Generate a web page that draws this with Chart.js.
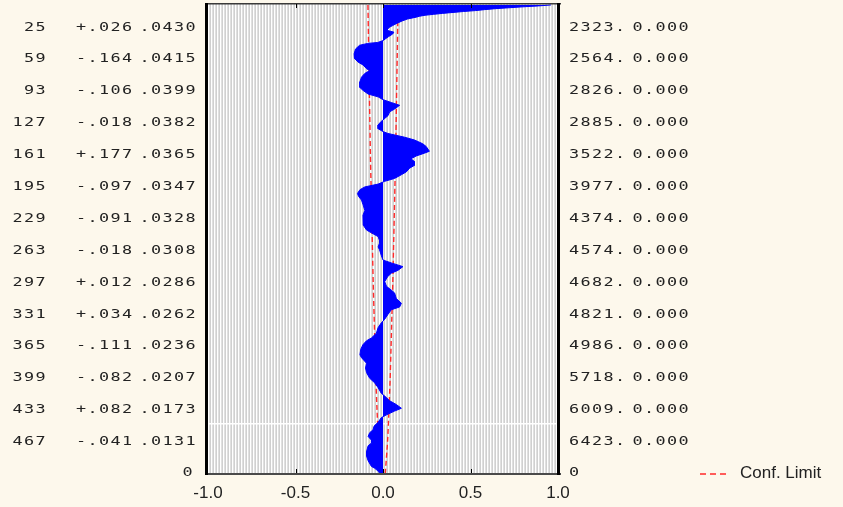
<!DOCTYPE html>
<html>
<head>
<meta charset="utf-8">
<script src="https://cdn.jsdelivr.net/npm/chart.js@4.4.1/dist/chart.umd.min.js"></script>
<style>
  html, body { margin: 0; padding: 0; background: #fdf8ec; }
  #wrap { width: 843px; height: 507px; }
</style>
</head>
<body>
<div id="wrap"><canvas id="acfChart" width="843" height="507"></canvas></div>
<script>
// autocorrelation per lag
const acfLags = [1, 2, 3, 4, 5, 6, 7, 8, 9, 10, 11, 12, 13, 14, 16, 18, 21, 23, 25, 28,
  30, 32, 35, 39, 41, 42, 44, 48, 53, 58, 62, 65, 69, 71, 74, 78, 83, 89, 92, 96,
  99, 102, 105, 108, 112, 115, 119, 122, 126, 129, 133, 136, 138, 142, 145, 149, 152, 157, 159, 162,
  165, 168, 172, 175, 179, 182, 186, 189, 192, 195, 198, 202, 205, 209, 214, 220, 225, 230, 236, 241,
  244, 248, 252, 255, 259, 262, 268, 273, 276, 280, 284, 287, 291, 296, 301, 305, 308, 314, 319, 323,
  326, 331, 336, 340, 345, 351, 356, 359, 363, 368, 374, 377, 383, 388, 393, 399, 404, 409, 415, 418,
  423, 427, 431, 434, 438, 441, 446, 450, 454, 457, 461, 465, 468, 471, 477, 482, 487, 493, 495, 498, 500];
const acfValues = [0.96, 0.89, 0.80, 0.72, 0.64, 0.58, 0.53, 0.46, 0.40, 0.34, 0.29, 0.24, 0.21, 0.19, 0.14, 0.11, 0.075, 0.055, 0.035, 0.022,
  0.062, 0.055, 0.03, 0.0, -0.03, -0.087, -0.134, -0.157, -0.165, -0.163, -0.142, -0.114, -0.094, -0.076, -0.104, -0.123, -0.132, -0.132, -0.115, -0.085,
  -0.028, 0.0, 0.047, 0.095, 0.066, 0.038, 0.029, 0.01, -0.015, -0.028, -0.028, 0.0, 0.028, 0.123, 0.18, 0.227, 0.247, 0.265, 0.237, 0.19,
  0.16, 0.18, 0.18, 0.152, 0.133, 0.105, 0.066, 0.01, -0.028, -0.104, -0.132, -0.146, -0.14, -0.123, -0.114, -0.104, -0.114, -0.11, -0.114, -0.094,
  -0.066, -0.028, -0.02, -0.02, -0.028, -0.02, -0.01, 0.0, 0.047, 0.114, 0.085, 0.047, 0.025, 0.01, 0.02, 0.047, 0.066, 0.076, 0.105, 0.095,
  0.047, 0.028, 0.01, -0.01, -0.028, -0.038, -0.066, -0.094, -0.114, -0.127, -0.132, -0.123, -0.094, -0.1, -0.094, -0.076, -0.047, -0.028, -0.01, 0.01,
  0.038, 0.076, 0.105, 0.066, 0.02, -0.01, -0.028, -0.051, -0.057, -0.076, -0.085, -0.066, -0.066, -0.085, -0.094, -0.094, -0.085, -0.066, -0.047, -0.028, -0.02];

// confidence limit (+/-)
const confLags = [1, 25, 59, 93, 127, 161, 195, 229, 263, 297, 331, 365, 399, 433, 467, 500];
const confValues = [0.086, 0.084, 0.081, 0.078, 0.075, 0.072, 0.068, 0.064, 0.060, 0.056, 0.051, 0.046, 0.041, 0.034, 0.026, 0.013];

// side tables
const rowLags = [25, 59, 93, 127, 161, 195, 229, 263, 297, 331, 365, 399, 433, 467];
const rowCorr = ["+.026", "-.164", "-.106", "-.018", "+.177", "-.097", "-.091", "-.018", "+.012", "+.034", "-.111", "-.082", "+.082", "-.041"];
const rowSE = [".0430", ".0415", ".0399", ".0382", ".0365", ".0347", ".0328", ".0308", ".0286", ".0262", ".0236", ".0207", ".0173", ".0131"];
const rowQ = ["2323.", "2564.", "2826.", "2885.", "3522.", "3977.", "4374.", "4574.", "4682.", "4821.", "4986.", "5718.", "6009.", "6423."];
const rowP = ["0.000", "0.000", "0.000", "0.000", "0.000", "0.000", "0.000", "0.000", "0.000", "0.000", "0.000", "0.000", "0.000", "0.000"];

const xTicks = [-1, -0.5, 0, 0.5, 1];
const lagMax = 500;
const gridLag = 447;

const monoFont = '12px "DejaVu Sans Mono"';
const textColor = "#222222";

function monoText(ctx, text, x, y, align) {
  ctx.save();
  ctx.translate(x, y);
  ctx.scale(1.4, 1);
  ctx.font = monoFont;
  ctx.letterSpacing = "1px";
  ctx.fillStyle = textColor;
  ctx.textAlign = align;
  ctx.textBaseline = "middle";
  ctx.fillText(text, 0, 0);
  ctx.restore();
}

const statisticaLook = {
  id: "statisticaLook",
  beforeDraw(chart) {
    const ctx = chart.ctx;
    const { left, right, top, bottom } = chart.chartArea;
    ctx.save();
    ctx.fillStyle = "#fdf8ec";
    ctx.fillRect(0, 0, chart.width, chart.height);
    // striped plot background
    ctx.fillStyle = "#d0d0d0";
    ctx.fillRect(left, top, right - left, bottom - top);
    for (let x = Math.floor(left); x < right; x += 3) {
      ctx.fillStyle = "#ffffff";
      ctx.fillRect(x, top, 1, bottom - top);
      ctx.fillStyle = "#e0e0e0";
      ctx.fillRect(x + 1, top, 1, bottom - top);
    }
    ctx.restore();
  },
  afterDraw(chart) {
    const ctx = chart.ctx;
    const { left, right, top, bottom } = chart.chartArea;
    const xs = chart.scales.x;
    const ys = chart.scales.y;
    ctx.save();
    // frame
    ctx.fillStyle = "#3a3a3a";
    ctx.fillRect(left - 3, top - 1, right - left + 6, 1.5);
    ctx.fillStyle = "#4a4a4a";
    ctx.fillRect(left - 3, bottom, right - left + 6, 2);
    ctx.fillStyle = "#000";
    ctx.fillRect(left - 3, top - 1, 3, bottom - top + 3);
    ctx.fillRect(right - 1, top - 1, 3, bottom - top + 3);
    // inner ticks
    xTicks.slice(1, -1).forEach(v => {
      const px = Math.round(xs.getPixelForValue(v));
      ctx.fillRect(px, top, 1, 4);
      ctx.fillRect(px, bottom - 4, 1, 4);
    });

    // side tables
    rowLags.forEach((lag, i) => {
      const y = ys.getPixelForValue(lag);
      monoText(ctx, String(lag), 47, y, "right");
      monoText(ctx, rowCorr[i], 76, y, "left");
      monoText(ctx, rowSE[i], 197, y, "right");
      monoText(ctx, rowQ[i], 569, y, "left");
      monoText(ctx, rowP[i], 690, y, "right");
    });
    const yEnd = ys.getPixelForValue(lagMax);
    monoText(ctx, "0", 194, yEnd, "right");
    monoText(ctx, "0", 569, yEnd, "left");

    // legend
    ctx.strokeStyle = "#ff2a2a";
    ctx.lineWidth = 1.5;
    ctx.setLineDash([6, 4]);
    ctx.beginPath();
    ctx.moveTo(700, yEnd + 1);
    ctx.lineTo(730, yEnd + 1);
    ctx.stroke();
    ctx.setLineDash([]);
    ctx.fillStyle = textColor;
    ctx.font = '17px "Liberation Sans"';
    ctx.textAlign = "left";
    ctx.textBaseline = "middle";
    ctx.fillText("Conf. Limit", 740, yEnd);
    ctx.restore();
  }
};

const acfPoints = acfLags.map((lag, i) => ({ x: acfValues[i], y: lag }));
const upperPoints = confLags.map((lag, i) => ({ x: confValues[i], y: lag }));
const lowerPoints = confLags.map((lag, i) => ({ x: -confValues[i], y: lag }));

new Chart(document.getElementById("acfChart"), {
  type: "line",
  data: {
    datasets: [
      {
        label: "Autocorrelation",
        data: acfPoints,
        borderColor: "#0000ff",
        borderWidth: 1,
        backgroundColor: "#0000ff",
        fill: "origin",
        pointRadius: 0,
        tension: 0
      },
      {
        label: "Conf. Limit",
        data: upperPoints,
        borderColor: "#ff2a2a",
        borderWidth: 1.4,
        borderDash: [5, 3],
        fill: false,
        pointRadius: 0,
        tension: 0.2
      },
      {
        label: "Conf. Limit (lower)",
        data: lowerPoints,
        borderColor: "#ff2a2a",
        borderWidth: 1.4,
        borderDash: [5, 3],
        fill: false,
        pointRadius: 0,
        tension: 0.2
      }
    ]
  },
  options: {
    indexAxis: "y",
    responsive: false,
    animation: false,
    layout: { padding: { left: 208, right: 285, top: 4, bottom: 0 } },
    plugins: {
      legend: { display: false },
      tooltip: { enabled: false }
    },
    scales: {
      x: {
        type: "linear",
        min: -1,
        max: 1,
        afterBuildTicks: scale => { scale.ticks = xTicks.map(v => ({ value: v })); },
        afterFit: scale => { scale.height = 34; },
        grid: { display: false, drawTicks: false },
        border: { display: false },
        ticks: {
          padding: 10,
          color: textColor,
          font: { family: "Liberation Sans", size: 17 },
          maxRotation: 0,
          callback: v => v.toFixed(1)
        }
      },
      y: {
        type: "linear",
        reverse: true,
        min: 0,
        max: lagMax,
        afterBuildTicks: scale => { scale.ticks = [{ value: gridLag }]; },
        afterFit: scale => { scale.width = 0; },
        border: { display: false },
        grid: { color: "#ffffff", lineWidth: 1.5, drawTicks: false },
        ticks: { display: false }
      }
    }
  },
  plugins: [statisticaLook]
});
</script>
</body>
</html>
